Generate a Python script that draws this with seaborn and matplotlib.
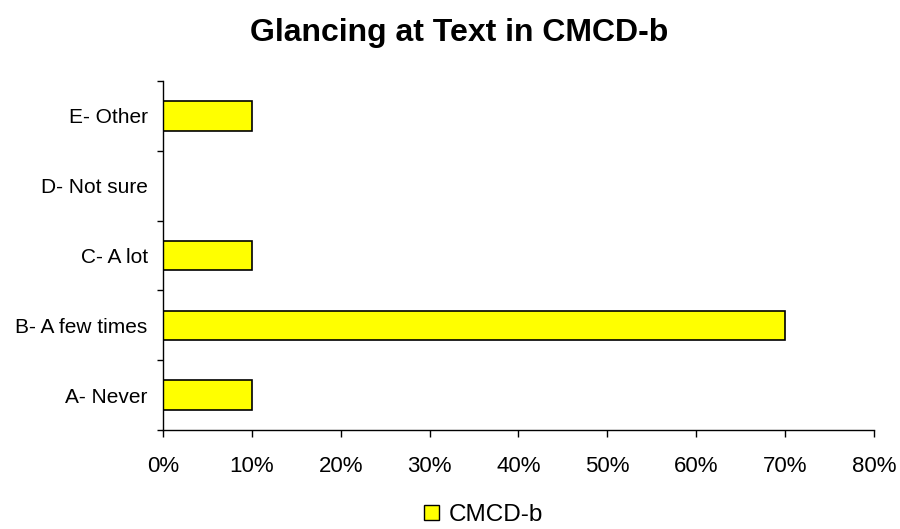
import matplotlib
matplotlib.use("Agg")
import matplotlib.pyplot as plt
import matplotlib.patches as mpatches
from matplotlib.ticker import FixedLocator, PercentFormatter
import pandas as pd
import seaborn as sns

# Survey responses and share of answers (percent)
categories = ["A- Never", "B- A few times", "C- A lot", "D- Not sure", "E- Other"]
values = [10, 70, 10, 0, 10]
series_name = "CMCD-b"
title = "Glancing at Text in CMCD-b"
x_ticks = [0, 10, 20, 30, 40, 50, 60, 70, 80]

sns.set_theme(style="white")
plt.rcParams["font.family"] = ["Liberation Sans", "DejaVu Sans"]
plt.rcParams["text.color"] = "black"
plt.rcParams["axes.labelcolor"] = "black"

df = pd.DataFrame({"category": categories, "value": values})

fig = plt.figure(figsize=(9, 5.29), dpi=100)
ax = fig.add_axes([0.1811, 0.1871, 0.79, 0.6598])

sns.barplot(
    data=df, x="value", y="category", order=categories[::-1], orient="h",
    color="#FFFF00", edgecolor="black", linewidth=1.2, width=0.42,
    saturation=1, ax=ax,
)
for p in ax.patches:
    p.set_facecolor("#FFFF00")

ax.set_xlim(0, 80)
ax.set_ylim(len(categories) - 0.5, -0.5)
ax.set_xticks(x_ticks)
ax.xaxis.set_major_formatter(PercentFormatter(decimals=0))
ax.set_xlabel("")
ax.set_ylabel("")

# Category ticks sit between the bars
ax.yaxis.set_minor_locator(FixedLocator([i - 0.5 for i in range(len(categories) + 1)]))
ax.tick_params(axis="y", which="major", length=0, pad=11, labelsize=15, labelcolor="black")
ax.tick_params(axis="y", which="minor", left=True, length=4.5, width=1, color="black")
ax.tick_params(axis="x", which="major", bottom=True, length=5, width=1, color="black",
               pad=14, labelsize=16, labelcolor="black")

for side in ("top", "right"):
    ax.spines[side].set_visible(False)
for side in ("left", "bottom"):
    ax.spines[side].set_color("black")
    ax.spines[side].set_linewidth(1)

fig.text(0.51, 0.937, title, ha="center", va="center", fontsize=23, fontweight="bold",
         color="black")

handle = mpatches.Patch(facecolor="#FFFF00", edgecolor="black", linewidth=1, label=series_name)
fig.legend(handles=[handle], loc="center", bbox_to_anchor=(0.537, 0.026), frameon=False,
           fontsize=17.5, handlelength=0.6, handleheight=0.6, handletextpad=0.4,
           labelcolor="black", borderpad=0.1)

fig.savefig("out.png", dpi=100)
